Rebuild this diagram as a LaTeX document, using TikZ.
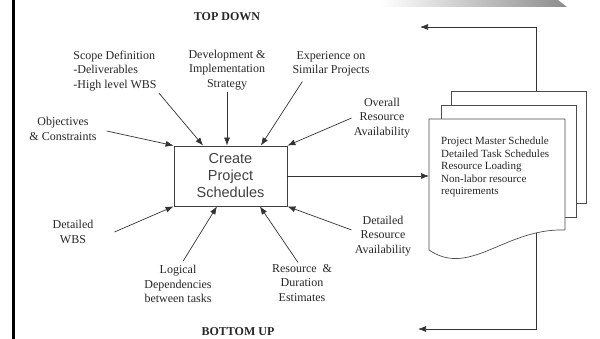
\documentclass[tikz,border=0pt]{standalone}
\usepackage{fontspec}
\setmainfont{Liberation Serif}
\newfontfamily\boxfont{Liberation Sans}
\usepackage{tikz}
\usetikzlibrary{positioning, arrows.meta, calc}

\begin{document}
\begin{tikzpicture}[x=1pt, y=-1pt,
    >={Latex[length=8pt,width=6pt]},
    label/.style={align=center, inner sep=2pt, text=black!85,
        font=\fontsize{12}{14.3}\selectfont},
    heading/.style={text=black!85, font=\fontsize{12}{14}\selectfont\bfseries},
    flow/.style={->, draw=black!80, line width=0.7pt},
    page/.style={draw=black!70, fill=white, line width=0.7pt}
    ]
        \useasboundingbox (0,0) rectangle (600,339);

        % slide frame
        \draw[line width=3pt] (13.5,0) -- (13.5,339);
        \shade[left color=white, right color=black!45]
            (380,0) -- (558,0) -- (567,7) -- (380,7) -- cycle;

        % Main task

        \node [draw=black!75,
        line width=0.8pt,
        minimum width=113pt,
        minimum height=60pt,
        align=center,
        text=black!75,
        font=\boxfont\fontsize{14.5}{17}\selectfont
            ] (sched) at (230.5,176) {Create\\Project\\Schedules};

        \node[heading] (topdown) at (227,17) {TOP DOWN};
        \node[heading] (bottomup) at (238,332) {BOTTOM UP};

        % Inputs from above
        \node[label, align=left] (scope) at (115,71)
            {Scope Definition\\-Deliverables\\-High level WBS};
        \node[label] (devel) at (227,70)
            {Development \&\\Implementation\\Strategy};
        \node[label] (exper) at (331,64)
            {Experience on\\Similar Projects};
        \node[label] (object) at (63,129)
            {Objectives\\\& Constraints};
        \node[label] (overall) at (382,118)
            {Overall\\Resource\\Availability};

        \draw[flow] (scope.south east) -- (sched.132);
        \draw[flow] (devel.south) -- (devel.south |- sched.north);
        \draw[flow] ($(exper.south west)+(12,3)$) -- (sched.45);
        \draw[flow] ($(object.east)+(8,2)$) -- (sched.north west);
        \draw[flow] (overall.west) -- (sched.north east);

        % Inputs from below
        \node[label] (wbs) at (73,232)
            {Detailed\\WBS};
        \node[label] (logic) at (178,284)
            {Logical\\Dependencies\\between tasks};
        \node[label] (estim) at (302,283)
            {Resource \ \&\\Duration\\Estimates};
        \node[label] (detres) at (383,236)
            {Detailed\\Resource\\Availability};

        \draw[flow] ($(wbs.east)+(19,0)$) -- (sched.south west);
        \draw[flow] ($(logic.north)+(5,-2)$) -- (sched.246);
        \draw[flow] ($(estim.north)+(-4,0)$) -- (sched.314);
        \draw[flow] ($(detres.west)+(-1,-6)$) -- (sched.south east);

        % Output documents
        \draw[page] (451,91) rectangle (586,203);
        \draw[page] (441,105) rectangle (576,217);
        \draw[page] (565,230) -- (565,119) -- (429,119) -- (429,250)
            .. controls (470,278) and (505,228) .. (565,230);

        \node[anchor=west,
        align=left,
        inner sep=0pt,
        text=black!85,
        font=\fontsize{11}{12.5}\selectfont
            ] (outputs) at (441,167)
            {Project Master Schedule\\Detailed Task Schedules\\Resource Loading\\Non-labor resource\\requirements};

        \coordinate (docin) at (429,176);
        \coordinate (upout) at (536,91);
        \coordinate (upend) at (420,27);
        \coordinate (downout) at (536,233);
        \coordinate (downend) at (418,329);

        \draw[flow] (sched.east) -- (docin);
        \draw[flow] (upout) |- (upend);
        \draw[flow] (downout) |- (downend);
\end{tikzpicture}
\end{document}
